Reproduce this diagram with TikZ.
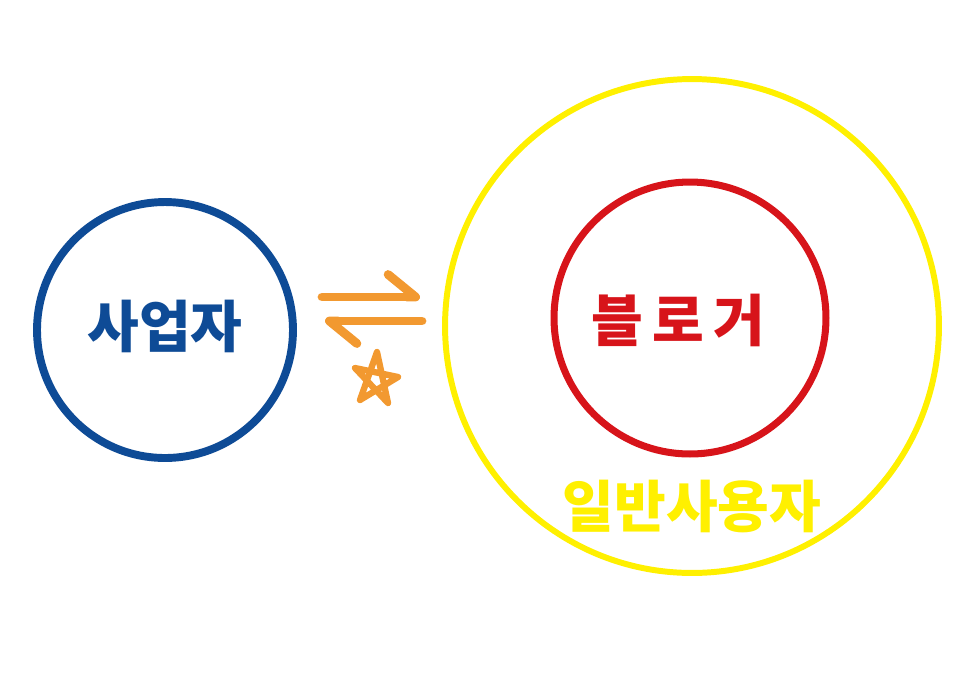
\documentclass[tikz,border=0pt]{standalone}
\usepackage{fontspec}
\newfontfamily\kofont{Noto Sans CJK KR}
\usetikzlibrary{arrows.meta}
\definecolor{bizblue}{RGB}{14,75,150}
\definecolor{blogred}{RGB}{215,20,26}
\definecolor{useryellow}{RGB}{255,240,0}
\definecolor{starorange}{RGB}{242,153,48}
\begin{document}
\begin{tikzpicture}[x=0.02cm, y=-0.02cm,
  word/.style={font=\kofont\bfseries\fontsize{32}{32}\selectfont},
  tradearrow/.style={-{Straight Barb[left, round, length=0.55cm, width=0.9cm]}, line width=5pt, line cap=round, draw=starorange}]
\useasboundingbox (0,0) rectangle (966,674);
\node[shape=circle, draw=useryellow, line width=3.4pt, minimum size=9.88cm, inner sep=0pt] (users) at (692,326) {};
\node[shape=circle, draw=blogred, line width=4pt, minimum size=5.44cm, inner sep=0pt] (blogger) at (690,318) {};
\node[shape=circle, draw=bizblue, line width=4.5pt, minimum size=5.12cm, inner sep=0pt] (biz) at (165,330) {};
\node[word, text=bizblue] (bizname) at (165,326) {사업자};
\node[word, text=blogred] (bloggername) at (678,320) {블\,로\,거};
\node[word, text=useryellow] (usersname) at (692,506) {일반사용자};
\coordinate (to1) at (322,297);
\coordinate (to2) at (420,297);
\coordinate (back1) at (422,321);
\coordinate (back2) at (325,321);
\draw [tradearrow] (to1) -- (to2);
\draw [tradearrow] (back1) -- (back2);
% star
\draw[starorange, line width=3.6pt, line join=round, line cap=round]
  (377,352) -- (360,400) -- (398,377) -- (355,368) -- (388,403) -- cycle;
\end{tikzpicture}
\end{document}
